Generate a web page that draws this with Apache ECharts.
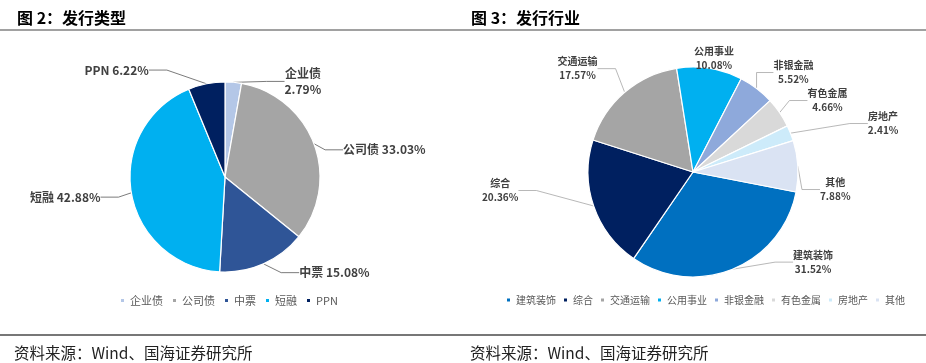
<!DOCTYPE html>
<html>
<head>
<meta charset="utf-8">
<script src="https://cdn.jsdelivr.net/npm/echarts@6/dist/echarts.min.js"></script>
<style>
html,body{margin:0;padding:0;background:#fff;}
#c{width:926px;height:363px;}
</style>
</head>
<body>
<div id="c"></div>
<script>
// ---- data ----
const typeNames = ['企业债', '公司债', '中票', '短融', 'PPN'];
const typeValues = [2.79, 33.03, 15.08, 42.88, 6.22];
const typeColors = ['#B4C7E7', '#A5A5A5', '#2F5597', '#00B0F0', '#002060'];

const industryNames = ['建筑装饰', '综合', '交通运输', '公用事业', '非银金融', '有色金属', '房地产', '其他'];
const industryValues = [31.52, 20.36, 17.57, 10.08, 5.52, 4.66, 2.41, 7.88];
const industryColors = ['#0070C0', '#002060', '#A5A5A5', '#00B0F0', '#8EA9DB', '#D9D9D9', '#CDEBFA', '#DAE3F3'];

const titleLeft = '图 2：发行类型';
const titleRight = '图 3：发行行业';
const sourceText = '资料来源：Wind、国海证券研究所';

// label nudges (style only): [dx, dy] relative to default ECharts label placement
const leftNudge = [[27, 13], [-7, 11], [7, -4], [6, 2], [-32, 0]];
const rightNudge = [[32, -20], [-39, -20], [5, -13], [-41, 4], [-19, -12], [-8, -14], [41, -21], [-10, 15]];

const FONT = '"Noto Sans CJK SC", "Noto Sans", sans-serif';

const chart = echarts.init(document.getElementById('c'), null, {renderer: 'canvas'});

const leftData = typeNames.map((n, i) => ({name: n, value: typeValues[i], itemStyle: {color: typeColors[i]}}));
const rightData = industryNames.map((n, i) => ({name: n, value: industryValues[i], itemStyle: {color: industryColors[i]}}));

function nudger(table) {
  return function (p) {
    const d = table[p.dataIndex] || [0, 0];
    const r = p.labelRect;
    return {
      x: r.x + r.width / 2 + d[0],
      y: r.y + d[1],
      align: 'center',
      verticalAlign: 'top'
    };
  };
}

chart.setOption({
  animation: false,
  backgroundColor: '#fff',
  title: [
    {text: titleLeft, left: 12, top: 5, textStyle: {fontFamily: FONT, fontSize: 16, fontWeight: 'bold', color: '#000'}},
    {text: titleRight, left: 466, top: 5, textStyle: {fontFamily: FONT, fontSize: 16, fontWeight: 'bold', color: '#000'}},
    {text: sourceText, left: 9, top: 340, textStyle: {fontFamily: FONT, fontSize: 15.5, fontWeight: 'normal', color: '#222'}},
    {text: sourceText, left: 465, top: 340, textStyle: {fontFamily: FONT, fontSize: 15.5, fontWeight: 'normal', color: '#222'}}
  ],
  graphic: [
    {type: 'line', shape: {x1: 0, y1: 30, x2: 926, y2: 30}, style: {stroke: '#444', lineWidth: 1.2}},
    {type: 'line', shape: {x1: 0, y1: 335, x2: 926, y2: 335}, style: {stroke: '#777', lineWidth: 2}}
  ],
  legend: [
    {
      data: typeNames, left: 119, top: 295, padding: 0, itemWidth: 5, itemHeight: 5, itemGap: 8, icon: 'rect', width: 340,
      textStyle: {fontFamily: FONT, fontSize: 11, color: '#595959'}
    },
    {
      data: industryNames, left: 505, top: 295, padding: 0, itemWidth: 5, itemHeight: 5, itemGap: 6, icon: 'rect', width: 420,
      textStyle: {fontFamily: FONT, fontSize: 10, color: '#595959'}
    }
  ],
  series: [
    {
      type: 'pie', center: [225, 177], radius: 95, startAngle: 90, clockwise: true,
      data: leftData,
      itemStyle: {borderColor: '#fff', borderWidth: 1.2},
      label: {
        show: true, fontFamily: FONT, fontSize: 12, fontWeight: 'bold', color: '#404040', lineHeight: 16,
        formatter: p => p.dataIndex === 0 ? p.name + '\n' + p.value.toFixed(2) + '%' : p.name + ' ' + p.value.toFixed(2) + '%'
      },
      labelLine: {length: 14, length2: 18, lineStyle: {color: '#595959', width: 0.8}},
      labelLayout: nudger(leftNudge)
    },
    {
      type: 'pie', center: [693, 172], radius: 105, startAngle: -11, clockwise: true,
      data: rightData,
      itemStyle: {borderColor: '#fff', borderWidth: 1.2},
      label: {
        show: true, fontFamily: FONT, fontSize: 10, fontWeight: 'bold', color: '#404040', lineHeight: 14, align: 'center',
        formatter: p => p.name + '\n' + p.value.toFixed(2) + '%'
      },
      labelLine: {length: 14, length2: 18, lineStyle: {color: '#A6A6A6', width: 0.8}},
      labelLayout: nudger(rightNudge)
    }
  ]
});
</script>
</body>
</html>
